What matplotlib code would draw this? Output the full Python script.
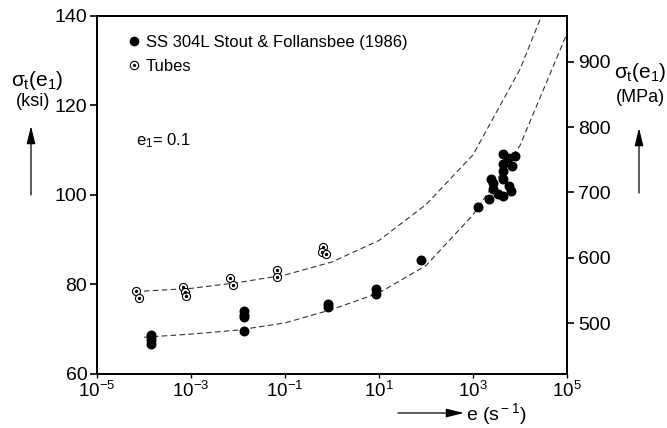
import numpy as np
import matplotlib
matplotlib.use("Agg")
import matplotlib.pyplot as plt
from matplotlib.lines import Line2D
from matplotlib.patches import FancyArrowPatch
from matplotlib.legend_handler import HandlerTuple

plt.rcParams['font.family'] = ['Liberation Sans', 'DejaVu Sans']
plt.rcParams['mathtext.fontset'] = 'custom'
plt.rcParams['mathtext.rm'] = 'Liberation Sans'
plt.rcParams['mathtext.it'] = 'Liberation Sans'
plt.rcParams['mathtext.bf'] = 'Liberation Sans'

# strain rate (1/s) and flow stress at e1 = 0.1 (ksi)
tube_rate = [6.6e-5, 7.8e-5, 6.6e-4, 7.4e-4, 7.8e-4, 6.9e-3, 7.8e-3,
             6.6e-2, 6.6e-2, 0.65, 0.62, 0.74]
tube_ksi = [78.45, 77.0, 79.5, 78.2, 77.5, 81.35, 79.8,
            83.1, 81.65, 88.3, 87.15, 86.7]

ss_rate = [1.4e-4, 1.4e-4, 1.4e-4, 1.4e-4,
           1.35e-2, 1.35e-2, 1.35e-2, 1.35e-2,
           0.83, 0.83, 8.6, 8.6, 80,
           1260, 2240, 2400, 2630, 2630, 3470,
           4270, 4270, 4270, 4420, 4420, 5500, 6600, 7760, 5900, 6300]
ss_ksi = [68.7, 68.2, 67.5, 66.7,
          74.0, 73.2, 72.7, 69.6,
          75.7, 75.0, 79.05, 77.9, 85.35,
          97.25, 99.1, 103.5, 102.6, 101.3, 100.15,
          99.7, 103.5, 105.4, 106.8, 109.1, 108.2, 106.5, 108.7, 102.0, 100.9]

# fitted trend lines, one point per decade
fit_rate = [1e-4, 1e-3, 1e-2, 1e-1, 1e0, 1e1, 1e2, 1e3, 1e4, 1e5]
fit_tube = [78.5, 79.1, 80.4, 82.1, 85.0, 89.8, 97.8, 108.9, 128.0, 154.0]
fit_ss = [68.2, 68.9, 69.8, 71.4, 74.4, 78.1, 84.2, 95.5, 111.0, 136.0]

xticks = [1e-5, 1e-3, 1e-1, 1e1, 1e3, 1e5]
xticklabels = ['$10^{-5}$', '$10^{-3}$', '$10^{-1}$', '$10^{1}$', '$10^{3}$', '$10^{5}$']
ksi_ticks = [60, 80, 100, 120, 140]
mpa_ticks = [500, 600, 700, 800, 900]

fig = plt.figure(figsize=(6.67, 4.28), dpi=100)
ax = fig.add_axes([97 / 667, 1 - 374 / 428, 470 / 667, 358.5 / 428])

ax.plot(fit_rate, fit_tube, color='#333333', lw=0.8, dashes=(5, 3))
ax.plot(fit_rate, fit_ss, color='#333333', lw=0.8, dashes=(5, 3))

ax.scatter(ss_rate, ss_ksi, s=38, c='black', zorder=3)
ax.scatter(tube_rate, tube_ksi, s=34, facecolors='white', edgecolors='black',
           linewidths=0.8, zorder=3)
ax.scatter(tube_rate, tube_ksi, s=2, c='black', zorder=4)

ax.set_xscale('log')
ax.set_xlim(1e-5, 1e5)
ax.set_ylim(60, 140)
ax.set_xticks(xticks)
ax.set_xticklabels(xticklabels)
ax.minorticks_off()
ax.set_yticks(ksi_ticks)
ax.tick_params(axis='y', labelsize=14, length=5, width=1.2, direction='out', pad=2)
ax.tick_params(axis='x', labelsize=13.5, length=3, width=1.0, direction='out', pad=2)
for sp in ax.spines.values():
    sp.set_linewidth(1.3)

ax2 = ax.twinx()
ax2.set_ylim(422, 971)
ax2.set_yticks(mpa_ticks)
ax2.tick_params(axis='y', labelsize=14, length=5, width=1.2, direction='out', pad=3)
for sp in ax2.spines.values():
    sp.set_linewidth(1.3)

# legend
h_ss = Line2D([], [], ls='none', marker='o', ms=6, color='black')
h_ring = Line2D([], [], ls='none', marker='o', ms=6, mfc='white', mec='black', mew=0.8)
h_dot = Line2D([], [], ls='none', marker='o', ms=1.3, color='black')
ax.legend([h_ss, (h_ring, h_dot)], ['SS 304L Stout & Follansbee (1986)', 'Tubes'],
          handler_map={tuple: HandlerTuple(ndivide=1, pad=0)},
          loc='upper left', bbox_to_anchor=(0.05, 0.97), frameon=False,
          fontsize=12, handlelength=0.6, handletextpad=0.4, labelspacing=0.55,
          borderpad=0)

ax.text(0.083, 0.637, r'e$_{\rm 1}$= 0.1', transform=ax.transAxes, fontsize=12)

# axis titles with arrows
fig.text(37 / 667, 1 - 80 / 428, r'$\sigma_{\rm t}(\rm e_1)$', fontsize=15,
         ha='center', va='center')
fig.text(33 / 667, 1 - 102 / 428, '(ksi)', fontsize=13, ha='center', va='center')
fig.text(640 / 667, 1 - 72 / 428, r'$\sigma_{\rm t}(\rm e_1)$', fontsize=15,
         ha='center', va='center')
fig.text(640 / 667, 1 - 97 / 428, '(MPa)', fontsize=13, ha='center', va='center')
fig.text(466 / 667, 1 - 414 / 428, r'e (s$^{\rm -1}$)', fontsize=14,
         ha='left', va='center')

arrow = dict(arrowstyle='-|>,head_length=0.9,head_width=0.22', color='black', lw=0.9,
             shrinkA=0, shrinkB=0, mutation_scale=12, transform=fig.transFigure)
fig.add_artist(FancyArrowPatch((31 / 667, 1 - 195 / 428), (31 / 667, 1 - 126 / 428), **arrow))
fig.add_artist(FancyArrowPatch((639 / 667, 1 - 193 / 428), (639 / 667, 1 - 128 / 428), **arrow))
fig.add_artist(FancyArrowPatch((398 / 667, 1 - 413 / 428), (464 / 667, 1 - 413 / 428), **arrow))

fig.savefig('out.png', dpi=100)
